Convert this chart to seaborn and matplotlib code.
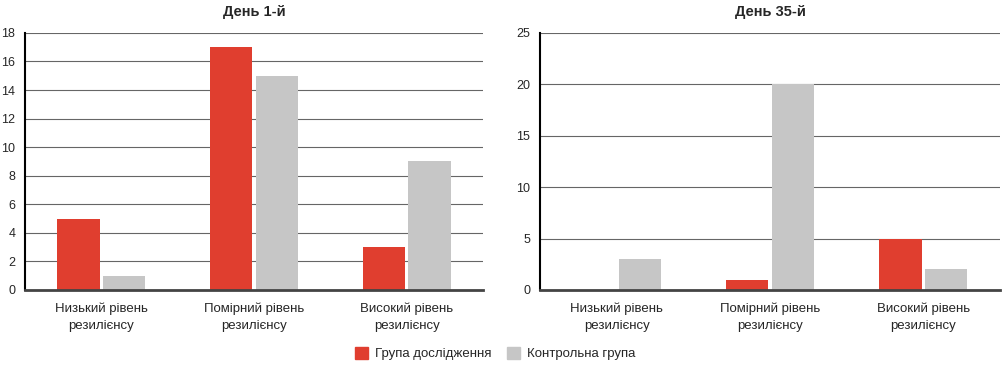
import matplotlib.pyplot as plt
import seaborn as sns
import pandas as pd

# дані
categories = ["Низький рівень\nрезилієнсу", "Помірний рівень\nрезилієнсу", "Високий рівень\nрезилієнсу"]
groups = ["Група дослідження", "Контрольна група"]
day1_study = [5, 17, 3]
day1_control = [1, 15, 9]
day35_study = [0, 1, 5]
day35_control = [3, 20, 2]

colors = ["#e03e2f", "#c6c6c6"]

sns.set_style("white")
plt.rcParams["font.family"] = ["Liberation Sans", "DejaVu Sans"]


def make_df(study, control):
    rows = []
    for c, s, k in zip(categories, study, control):
        rows.append({"cat": c, "group": groups[0], "value": s})
        rows.append({"cat": c, "group": groups[1], "value": k})
    return pd.DataFrame(rows)


fig = plt.figure(figsize=(10.04, 3.78), dpi=100)
ax1 = fig.add_axes([0.025, 0.233, 0.456, 0.68])
ax2 = fig.add_axes([0.538, 0.233, 0.458, 0.68])

panels = [
    (ax1, make_df(day1_study, day1_control), "День 1-й", 18, range(0, 19, 2)),
    (ax2, make_df(day35_study, day35_control), "День 35-й", 25, range(0, 26, 5)),
]

for ax, df, title, ymax, ticks in panels:
    sns.barplot(data=df, x="cat", y="value", hue="group", palette=colors,
                width=0.6, gap=0.08, ax=ax, legend=False, saturation=1,
                linewidth=0)
    ax.set_ylim(0, ymax)
    ax.set_yticks(list(ticks))
    ax.set_xlim(-0.5, 2.5)
    ax.yaxis.grid(True, color="#666666", linewidth=0.8)
    ax.set_axisbelow(True)
    ax.set_title(title, fontsize=10.5, fontweight="bold", pad=12)
    ax.set_xlabel("")
    ax.set_ylabel("")
    ax.tick_params(axis="both", length=0)
    ax.tick_params(axis="x", pad=9, labelsize=9.5)
    ax.tick_params(axis="y", pad=7, labelsize=9)
    for lbl in ax.get_xticklabels():
        lbl.set_linespacing(1.55)
    for s in ["top", "right"]:
        ax.spines[s].set_visible(False)
    ax.spines["left"].set_color("black")
    ax.spines["left"].set_linewidth(1.5)
    ax.spines["bottom"].set_color("#444444")
    ax.spines["bottom"].set_linewidth(2)

handles = [plt.Rectangle((0, 0), 1, 1, color=c) for c in colors]
fig.legend(handles, groups, loc="center", bbox_to_anchor=(0.493, 0.065), ncol=2,
           frameon=False, fontsize=9.5, handlelength=1.0, handleheight=1.0,
           columnspacing=1.2, handletextpad=0.5)

fig.savefig("out.png", dpi=100)
